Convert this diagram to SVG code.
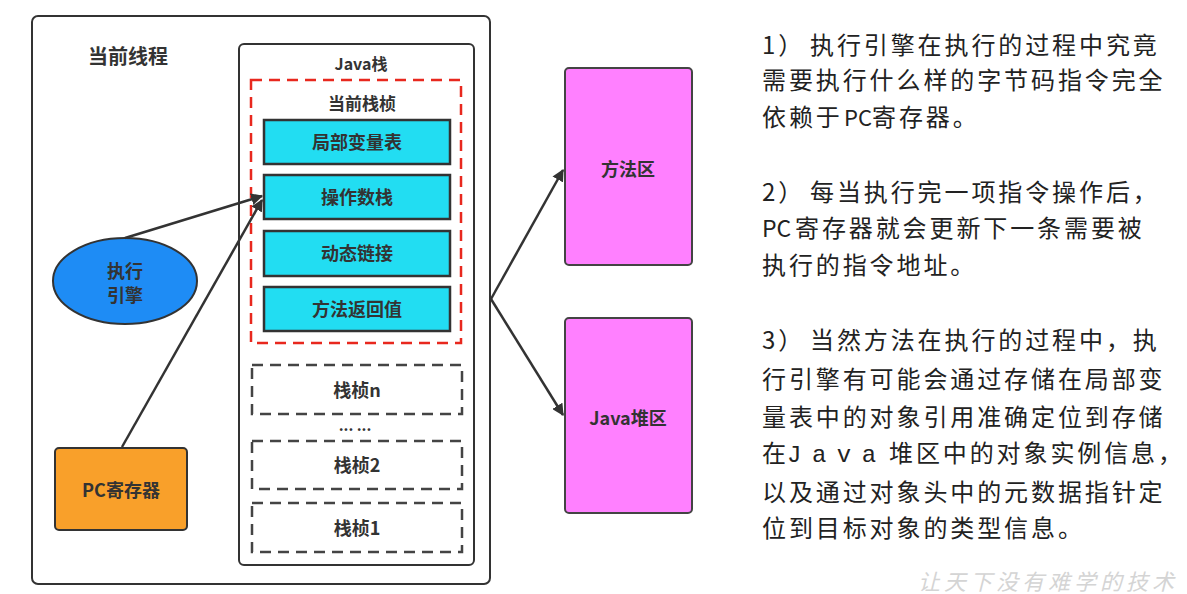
<svg xmlns="http://www.w3.org/2000/svg" width="1187" height="594" viewBox="0 0 1187 594">
<defs>
<marker id="arr" viewBox="0 0 10 10" refX="9" refY="5" markerWidth="12" markerHeight="12" markerUnits="userSpaceOnUse" orient="auto">
<path d="M0,0 L10,5 L0,10 z" fill="#333"/>
</marker>
<style>
.lbl{font-family:"Noto Sans CJK SC","Liberation Sans",sans-serif;font-weight:bold;fill:#333;text-anchor:middle}
.box{stroke:#333;stroke-width:2}
.cyan{fill:#22DDF2;stroke:#333;stroke-width:2.5}
.dash{fill:none;stroke:#444;stroke-width:2.5;stroke-dasharray:11 7}
.pink{fill:#FF80FF;stroke:#444;stroke-width:2}
.conn{fill:none;stroke:#333;stroke-width:2.5}
.note{font-family:"Noto Sans CJK SC",sans-serif;font-size:24px;fill:#222;letter-spacing:2.9px}
</style>
</defs>
<rect width="1187" height="594" fill="#fff"/>
<g id="thread">
<rect x="32" y="16" width="458" height="568" rx="6" fill="#fff" class="box"/>
<text x="128" y="64" class="lbl" font-size="20">当前线程</text>
</g>
<g id="java-stack">
<rect x="239" y="44" width="235" height="521" rx="5" fill="#fff" class="box"/>
<text x="361" y="70" class="lbl" font-size="16">Java栈</text>
</g>
<g id="current-frame">
<rect x="251" y="80" width="210" height="263" fill="none" stroke="#e8281e" stroke-width="2.5" stroke-dasharray="11 7"/>
<text x="362" y="110" class="lbl" font-size="17">当前栈桢</text>
</g>
<g id="local-vars"><rect x="264" y="120" width="186" height="44" class="cyan"/><text x="357" y="149" class="lbl" font-size="18">局部变量表</text></g>
<g id="operand-stack"><rect x="264" y="175" width="186" height="44" class="cyan"/><text x="357" y="204" class="lbl" font-size="18">操作数栈</text></g>
<g id="dynamic-link"><rect x="264" y="231" width="186" height="45" class="cyan"/><text x="357" y="260" class="lbl" font-size="18">动态链接</text></g>
<g id="return-value"><rect x="264" y="287" width="186" height="44" class="cyan"/><text x="357" y="316" class="lbl" font-size="18">方法返回值</text></g>
<g id="frame-n"><rect x="252" y="365" width="210" height="49" class="dash"/><text x="357" y="397" class="lbl" font-size="18">栈桢n</text></g>
<g id="ellipsis"><text x="355" y="431" class="lbl" font-size="15">... ...</text></g>
<g id="frame-2"><rect x="252" y="441" width="210" height="48" class="dash"/><text x="357" y="472" class="lbl" font-size="18">栈桢2</text></g>
<g id="frame-1"><rect x="252" y="503" width="210" height="49" class="dash"/><text x="357" y="535" class="lbl" font-size="18">栈桢1</text></g>
<g id="engine">
<ellipse cx="125" cy="281" rx="72" ry="43" fill="#1E8CF5" stroke="#333" stroke-width="2"/>
<text x="125" y="278" class="lbl" font-size="18">执行</text>
<text x="125" y="302" class="lbl" font-size="18">引擎</text>
</g>
<g id="pc-register">
<rect x="55" y="448" width="132" height="82" rx="4" fill="#F9A02A" stroke="#333" stroke-width="2"/>
<text x="121" y="497" class="lbl" font-size="18">PC寄存器</text>
</g>
<g id="method-area">
<rect x="565" y="68" width="127" height="197" rx="4" class="pink"/>
<text x="628" y="176" class="lbl" font-size="18">方法区</text>
</g>
<g id="java-heap">
<rect x="565" y="318" width="127" height="195" rx="4" class="pink"/>
<text x="628" y="425" class="lbl" font-size="18">Java堆区</text>
</g>
<g id="connectors">
<line x1="125" y1="238" x2="262" y2="196" class="conn" marker-end="url(#arr)"/>
<line x1="122" y1="447" x2="262" y2="200" class="conn" marker-end="url(#arr)"/>
<line x1="491" y1="299" x2="563" y2="170" class="conn" marker-end="url(#arr)"/>
<line x1="491" y1="299" x2="563" y2="415" class="conn" marker-end="url(#arr)"/>
</g>
<g id="notes" class="note">
<text y="54"><tspan x="762">1）</tspan><tspan x="810">执行引擎在执行的过程中究竟</tspan></text>
<text x="762" y="89">需要执行什么样的字节码指令完全</text>
<text y="126"><tspan x="762">依赖于</tspan><tspan x="844" style="font-size:22px;letter-spacing:0px">PC</tspan><tspan x="872">寄存器。</tspan></text>
<text y="201"><tspan x="762">2）</tspan><tspan x="810">每当执行完一项指令操作后，</tspan></text>
<text y="237"><tspan x="762" style="font-size:23px;letter-spacing:0px">PC</tspan><tspan x="795">寄存器就会更新下一条需要被</tspan></text>
<text x="762" y="274">执行的指令地址。</text>
<text y="349"><tspan x="762">3）</tspan><tspan x="810">当然方法在执行的过程中，执</tspan></text>
<text x="762" y="388">行引擎有可能会通过存储在局部变</text>
<text x="762" y="426">量表中的对象引用准确定位到存储</text>
<text y="462"><tspan x="762">在</tspan><tspan x="787" style="font-family:'Liberation Mono',monospace;letter-spacing:10.5px">Java</tspan><tspan x="889">堆区中的对象实例信息，</tspan></text>
<text x="762" y="501">以及通过对象头中的元数据指针定</text>
<text x="762" y="537">位到目标对象的类型信息。</text>
</g>
<g id="watermark">
<text x="918" y="590" font-family="Noto Sans CJK SC,sans-serif" font-size="22" fill="#d4d4d4" letter-spacing="4" font-style="italic">让天下没有难学的技术</text>
</g>
</svg>
